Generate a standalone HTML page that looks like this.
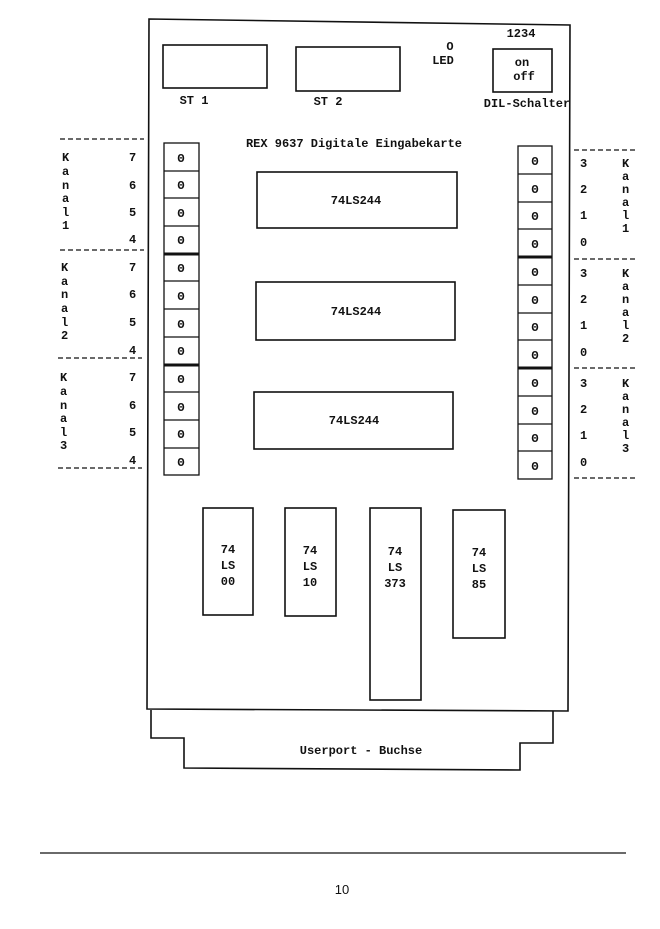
<!DOCTYPE html>
<html><head><style>
body{margin:0;background:#fff}
svg text{font-family:"Liberation Mono","DejaVu Sans Mono",monospace;font-size:12px;font-weight:bold;fill:#111}
</style></head><body>
<svg width="660" height="924" viewBox="0 0 660 924" xmlns="http://www.w3.org/2000/svg">
<g fill="none" stroke="#111" stroke-width="1.6">
<polygon points="149,19 570,25 568,711 147,709"/>
<polyline points="151,710 151,738 184,738 184,768 520,770 520,743 553,743 553,711"/>
<rect x="163" y="45" width="104" height="43"/>
<rect x="296" y="47" width="104" height="44"/>
<rect x="493" y="49" width="59" height="43"/>
<rect x="257" y="172" width="200" height="56"/>
<rect x="256" y="282" width="199" height="58"/>
<rect x="254" y="392" width="199" height="57"/>
<rect x="203" y="508" width="50" height="107"/>
<rect x="285" y="508" width="51" height="108"/>
<rect x="370" y="508" width="51" height="192"/>
<rect x="453" y="510" width="52" height="128"/>
</g>
<g fill="none" stroke="#111" stroke-width="1.3">
<rect x="164" y="143" width="35" height="332"/>
<rect x="518" y="146" width="34" height="333"/>
<path d="M164 171h35M164 198h35M164 226h35M164 254h35M164 281h35M164 309h35M164 337h35M164 365h35M164 392h35M164 420h35M164 448h35"/>
<path d="M518 174h34M518 202h34M518 229h34M518 257h34M518 285h34M518 313h34M518 340h34M518 368h34M518 396h34M518 424h34M518 451h34"/>
<path d="M164 254h35M164 365h35M518 257h34M518 368h34" stroke-width="3"/>
</g>
<g stroke="#111" stroke-width="1.2" stroke-dasharray="5,3">
<path d="M60 139h84M60 250h84M58 358h84M58 468h84"/>
<path d="M574 150h64M574 259h64M574 368h64M574 478h64"/>
<path d="M40 853h586" stroke-dasharray="none"/>
</g>
<g text-anchor="middle">
<text x="181" y="162">Θ</text><text x="181" y="189">Θ</text><text x="181" y="217">Θ</text><text x="181" y="244">Θ</text>
<text x="181" y="272">Θ</text><text x="181" y="300">Θ</text><text x="181" y="328">Θ</text><text x="181" y="355">Θ</text>
<text x="181" y="383">Θ</text><text x="181" y="411">Θ</text><text x="181" y="438">Θ</text><text x="181" y="466">Θ</text>
<text x="535" y="165">Θ</text><text x="535" y="193">Θ</text><text x="535" y="220">Θ</text><text x="535" y="248">Θ</text>
<text x="535" y="276">Θ</text><text x="535" y="304">Θ</text><text x="535" y="331">Θ</text><text x="535" y="359">Θ</text>
<text x="535" y="387">Θ</text><text x="535" y="415">Θ</text><text x="535" y="442">Θ</text><text x="535" y="470">Θ</text>
<text x="356" y="204">74LS244</text><text x="356" y="315">74LS244</text><text x="354" y="424">74LS244</text>
<text x="228" y="553">74</text><text x="228" y="569">LS</text><text x="228" y="585">00</text>
<text x="310" y="554">74</text><text x="310" y="570">LS</text><text x="310" y="586">10</text>
<text x="395" y="555">74</text><text x="395" y="571">LS</text><text x="395" y="587">373</text>
<text x="479" y="556">74</text><text x="479" y="572">LS</text><text x="479" y="588">85</text>
<text x="361" y="754">Userport - Buchse</text>
<text x="354" y="147">REX 9637 Digitale Eingabekarte</text>
<text x="522" y="66">on</text><text x="524" y="80">off</text>
<text x="521" y="37">1234</text>
<text x="450" y="50">O</text><text x="443" y="64">LED</text>
<text x="527" y="107">DIL-Schalter</text>
<text x="194" y="104">ST 1</text><text x="328" y="105">ST 2</text>
<text x="342" y="894" style="font-family:'Liberation Sans',sans-serif;font-size:13px;font-weight:normal">10</text>
</g>
<g>
<text x="129" y="161">7</text><text x="129" y="189">6</text><text x="129" y="216">5</text><text x="129" y="243">4</text>
<text x="129" y="271">7</text><text x="129" y="298">6</text><text x="129" y="326">5</text><text x="129" y="354">4</text>
<text x="129" y="381">7</text><text x="129" y="409">6</text><text x="129" y="436">5</text><text x="129" y="464">4</text>
<text x="62" y="161">K</text><text x="62" y="175">a</text><text x="62" y="189">n</text><text x="62" y="202">a</text><text x="62" y="216">l</text><text x="62" y="229">1</text>
<text x="61" y="271">K</text><text x="61" y="285">a</text><text x="61" y="298">n</text><text x="61" y="312">a</text><text x="61" y="326">l</text><text x="61" y="339">2</text>
<text x="60" y="381">K</text><text x="60" y="395">a</text><text x="60" y="409">n</text><text x="60" y="422">a</text><text x="60" y="436">l</text><text x="60" y="449">3</text>
<text x="580" y="167">3</text><text x="580" y="193">2</text><text x="580" y="219">1</text><text x="580" y="246">0</text>
<text x="580" y="277">3</text><text x="580" y="303">2</text><text x="580" y="329">1</text><text x="580" y="356">0</text>
<text x="580" y="387">3</text><text x="580" y="413">2</text><text x="580" y="439">1</text><text x="580" y="466">0</text>
<text x="622" y="167">K</text><text x="622" y="180">a</text><text x="622" y="193">n</text><text x="622" y="206">a</text><text x="622" y="219">l</text><text x="622" y="232">1</text>
<text x="622" y="277">K</text><text x="622" y="290">a</text><text x="622" y="303">n</text><text x="622" y="316">a</text><text x="622" y="329">l</text><text x="622" y="342">2</text>
<text x="622" y="387">K</text><text x="622" y="400">a</text><text x="622" y="413">n</text><text x="622" y="426">a</text><text x="622" y="439">l</text><text x="622" y="452">3</text>
</g>
</svg>
</body></html>
